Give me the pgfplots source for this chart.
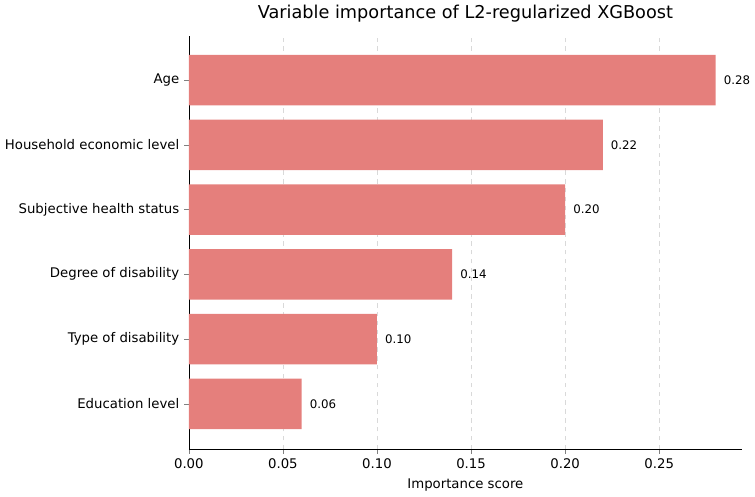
\documentclass[border=0pt]{standalone}
\usepackage{pgfplots}
\pgfplotsset{compat=1.18}
\usepackage{fontspec}
\setmainfont{DejaVu Sans}
\definecolor{barc}{HTML}{E57F7C}
\begin{document}
\begin{tikzpicture}
\begin{axis}[
  scale only axis, width=375pt, height=280pt,
  xbar, bar width=0.78,
  xmin=0, xmax=0.294, ymin=-0.7, ymax=5.68,
  ytick={0,1,2,3,4,5},
  yticklabels={Education level,Type of disability,Degree of disability,Subjective health status,Household economic level,Age},
  xtick={0,0.05,0.1,0.15,0.2,0.25},
  /pgf/number format/assume math mode=true,
  xticklabel style={/pgf/number format/fixed,/pgf/number format/fixed zerofill,/pgf/number format/precision=2},
  ticklabel style={font=\small},
  axis x line*=bottom, axis y line*=left,
  xmajorgrids, grid style={dashed,gray!30},
  tick align=outside, major tick length=3pt,
  xlabel={Importance score}, xlabel style={font=\small},
  title={Variable importance of L2-regularized XGBoost},
  title style={font=\large},
  nodes near coords, nodes near coords align={horizontal},
  every node near coord/.append style={font=\footnotesize,black,/pgf/number format/fixed,/pgf/number format/fixed zerofill,/pgf/number format/precision=2,xshift=2pt},
]
\addplot[fill=barc,draw=none] coordinates {(0.06,0) (0.10,1) (0.14,2) (0.20,3) (0.22,4) (0.28,5)};
\end{axis}
\end{tikzpicture}
\end{document}
